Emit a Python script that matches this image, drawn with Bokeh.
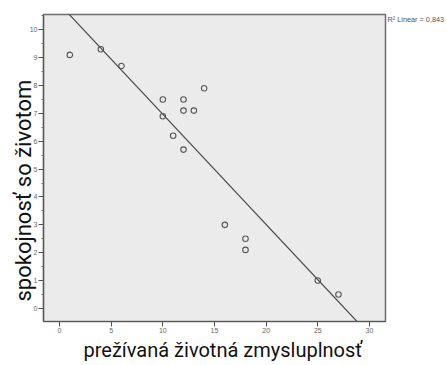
import numpy as np
from bokeh.plotting import figure
from bokeh.models import FixedTicker, LinearAxis, Range1d, Title
from bokeh.embed import file_html
from bokeh.resources import INLINE

# data
x_meaning = [1, 4, 6, 10, 10, 11, 12, 12, 12, 13, 14, 16, 18, 18, 25, 27]
y_satisfaction = [9.1, 9.3, 8.7, 7.5, 6.9, 6.2, 7.5, 7.1, 5.7, 7.1, 7.9, 3.0, 2.5, 2.1, 1.0, 0.5]
x_ticks = [0, 5, 10, 15, 20, 25, 30]
y_ticks = list(range(0, 11))
y_minor = [v + 0.5 for v in range(-1, 11)]
r2_text = "R\u00b2 Linear = 0,843"
x_title = "prežívaná životná zmysluplnosť"
y_title = "spokojnosť so životom"

X0, X1 = -1.55, 31.55
Y0, Y1 = -0.47, 10.55
R2_POS = 10.37

slope, intercept = np.polyfit(np.array(x_meaning, float), np.array(y_satisfaction, float), 1)
fit_x = np.array([X0, X1])
fit_y = intercept + slope * fit_x

p = figure(width=447, height=365, output_backend="svg", toolbar_location=None,
           x_range=Range1d(X0, X1), y_range=Range1d(Y0, Y1),
           min_border_left=43, min_border_top=14, min_border_right=61, min_border_bottom=42)
p.background_fill_color = "#ebebeb"
p.border_fill_color = "white"
p.outline_line_color = "#6e6e6e"
p.outline_line_width = 1.5
p.grid.visible = False

p.line(fit_x, fit_y, line_color="#4a4a4a", line_width=1.2)
p.scatter(x_meaning, y_satisfaction, size=5.5, marker="circle",
          fill_alpha=0, line_color="#555555", line_width=1.1)

for ax in (p.xaxis[0], p.yaxis[0]):
    ax.axis_line_color = "#555555"
    ax.axis_line_width = 1.2
    ax.major_tick_line_color = "#555555"
    ax.minor_tick_line_color = "#777777"
    ax.major_tick_in = 0
    ax.minor_tick_in = 0
    ax.major_label_text_font = "Liberation Sans"
    ax.major_label_text_font_size = "7px"
    ax.major_label_text_color = "#666666"
    ax.major_label_standoff = 1

p.xaxis.ticker = FixedTicker(ticks=x_ticks, minor_ticks=[])
p.yaxis.ticker = FixedTicker(ticks=y_ticks, minor_ticks=y_minor)
p.xaxis.major_tick_out = 5
p.yaxis.major_tick_out = 5
p.yaxis.minor_tick_out = 2

# x-axis title, placed below the axis, slightly right of centre like the reference
p.add_layout(Title(text=x_title, align="left", offset=40, vertical_align="top",
                   standoff=4, text_font="Roboto", text_font_size="20px",
                   text_font_style="normal", text_color="#111111"), "below")

# y-axis title, placed low along the left side like the reference
p.add_layout(Title(text=y_title, align="left", offset=20, standoff=-18,
                   text_font="Roboto", text_font_size="22px",
                   text_font_style="normal", text_color="#111111"), "left")

# R² note as a tick label of a bare right axis
r2_axis = LinearAxis(ticker=FixedTicker(ticks=[R2_POS], minor_ticks=[]),
                     major_label_overrides={R2_POS: r2_text},
                     axis_line_color=None, major_tick_line_color=None,
                     minor_tick_line_color=None, major_tick_out=0, major_tick_in=0,
                     major_label_standoff=2,
                     major_label_text_font="Liberation Sans",
                     major_label_text_font_size="7.3px",
                     major_label_text_color="#555555")
p.add_layout(r2_axis, "right")

open("out.html", "w").write(file_html(p, INLINE))
